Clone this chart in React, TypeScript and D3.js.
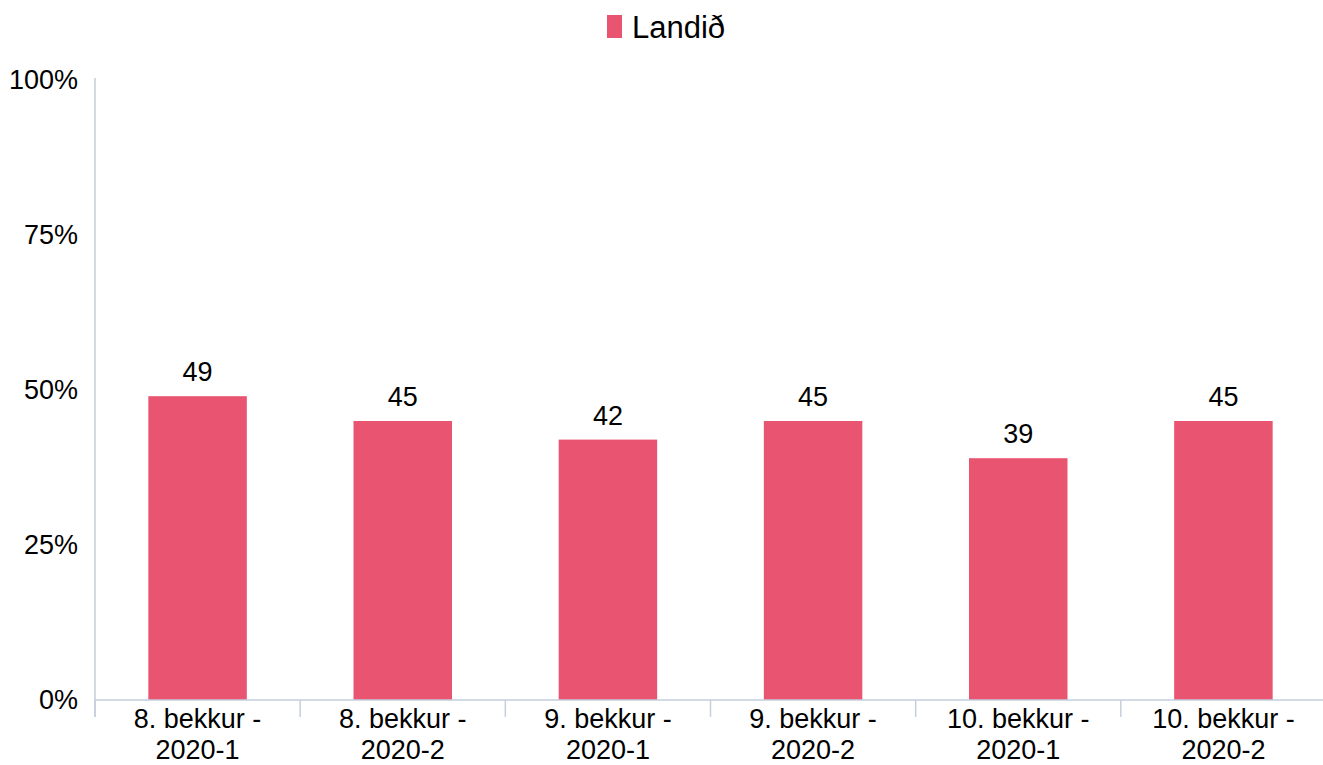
import React from "react";
import * as d3 from "d3";

const categories = [
  ["8. bekkur -", "2020-1"],
  ["8. bekkur -", "2020-2"],
  ["9. bekkur -", "2020-1"],
  ["9. bekkur -", "2020-2"],
  ["10. bekkur -", "2020-1"],
  ["10. bekkur -", "2020-2"],
];
const values = [49, 45, 42, 45, 39, 45];
const yTicks = [0, 25, 50, 75, 100];
const seriesName = "Landið";

const W = 1323;
const H = 765;
const FONT = "'Liberation Sans', Arial, sans-serif";
const BAR = "#E95470";
const AXIS = "#C3CEDE";

export default function App() {
  const left = 95;
  const right = 1326;
  const top = 80;
  const bottom = 700;
  const keys = categories.map((_, i) => String(i));
  const x = d3.scaleBand<string>().domain(keys).range([left, right]).paddingInner(0.52).paddingOuter(0.26);
  const xb = d3.scaleBand<string>().domain(keys).range([left, right]);
  const y = d3.scaleLinear().domain([0, 100]).range([bottom, top]);

  return (
    <svg width={W} height={H} style={{ position: "absolute", left: 0, top: 0 }} fontFamily={FONT}>
      {/* legend */}
      <rect x={607} y={15} width={15} height={23} fill={BAR} />
      <text x={632} y={38} fontSize={31} fill="#000">{seriesName}</text>

      {/* y axis */}
      <line x1={left} x2={left} y1={top - 2} y2={bottom + 17} stroke={AXIS} strokeWidth={1.5} />
      {yTicks.map((t) => (
        <text key={t} x={78} y={y(t)} dy="0.35em" textAnchor="end" fontSize={27} fill="#000">
          {t}%
        </text>
      ))}

      {/* bars */}
      {values.map((v, i) => (
        <rect key={i} x={x(String(i))} y={y(v)} width={x.bandwidth()} height={bottom - y(v)} fill={BAR} />
      ))}
      {values.map((v, i) => (
        <text key={"l" + i} x={x(String(i))! + x.bandwidth() / 2} y={y(v) - 15} textAnchor="middle" fontSize={27} fill="#000">
          {v}
        </text>
      ))}

      {/* x axis */}
      <line x1={left} x2={W} y1={bottom} y2={bottom} stroke={AXIS} strokeWidth={1.5} />
      {keys.map((k) => (
        <line key={"t" + k} x1={xb(k)} x2={xb(k)} y1={bottom} y2={bottom + 17} stroke={AXIS} strokeWidth={1.5} />
      ))}
      {categories.map((c, i) => (
        <text key={"c" + i} x={xb(String(i))! + xb.bandwidth() / 2} textAnchor="middle" fontSize={27} fill="#000">
          <tspan x={xb(String(i))! + xb.bandwidth() / 2} y={728}>{c[0]}</tspan>
          <tspan x={xb(String(i))! + xb.bandwidth() / 2} y={759}>{c[1]}</tspan>
        </text>
      ))}
    </svg>
  );
}
